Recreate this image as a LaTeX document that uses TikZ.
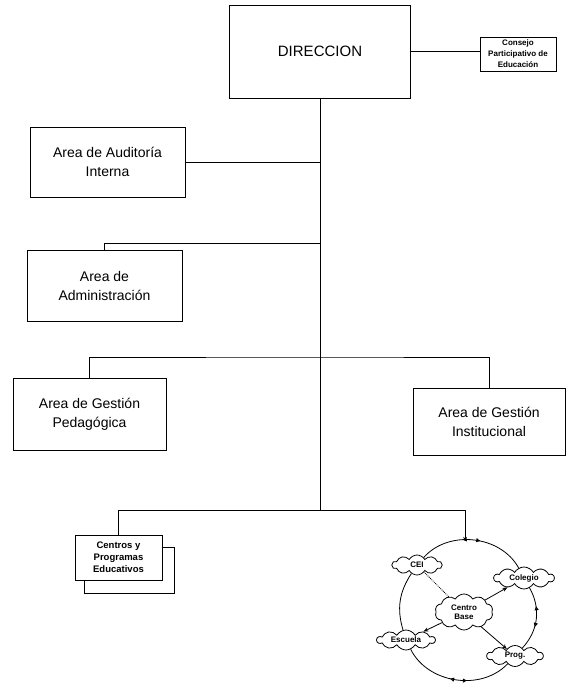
\documentclass[tikz,border=0pt]{standalone}
\usepackage{fontspec}
\setmainfont{Liberation Sans}
\usetikzlibrary{shapes.symbols,arrows.meta,decorations.markings}
\begin{document}
\begin{tikzpicture}[x=1pt,y=1pt,
  box/.style={draw,line width=0.9pt,fill=white,inner sep=1pt,align=center},
  area/.style={box,font=\fontsize{14}{19}\selectfont},
  cl/.style={draw,cloud,cloud puffs=10,cloud puff arc=120,cloud ignores aspect,line width=0.8pt,fill=white,inner sep=0pt,align=center,font=\fontsize{8}{9.5}\selectfont\bfseries},
  link/.style={line width=0.8pt},
  arr/.style={line width=0.8pt,-{Stealth[length=5pt,width=4pt]}},
  flow/.style 2 args={line width=0.8pt,postaction={decorate},decoration={markings,
    mark=at position #1 with {\arrowreversed{Triangle[open,length=4pt,width=4pt]}},
    mark=at position #2 with {\arrow{Triangle[open,length=4pt,width=4pt]}}}}
]
\useasboundingbox[fill=white] (0,0) rectangle (566,683);

% main boxes
\node[box,minimum width=181,minimum height=93,font=\fontsize{15}{18}\selectfont] (dir) at (320,631.5) {DIRECCION};
\node[box,minimum width=76,minimum height=34,font=\fontsize{8}{11}\selectfont\bfseries] (cons) at (518,629) {Consejo\\Participativo de\\Educación};
\node[area,minimum width=155,minimum height=70] (aud) at (107.5,521) {Area de Auditoría\\Interna};
\node[area,minimum width=155,minimum height=71] (adm) at (104.5,397.5) {Area de\\Administración};
\node[area,minimum width=153,minimum height=72] (ped) at (89.5,269) {Area de Gestión\\Pedagógica};
\node[area,minimum width=152,minimum height=67] (ins) at (489,261.5) {Area de Gestión\\Institucional};
\node[box,minimum width=90,minimum height=46] (cenb) at (129,113) {};
\node[box,minimum width=87,minimum height=45,font=\fontsize{9.5}{12}\selectfont\bfseries] (cen) at (118.5,125.5) {Centros y\\Programas\\Educativos};

% junctions
\coordinate (jadm) at (320,440);
\coordinate (jg) at (320,326);
\coordinate (jc) at (320,173);
\coordinate (ctop) at (465,142);

% connectors
\draw[link] (dir.east) -- (dir.east -| cons.west);
\draw[link] (dir.south) -- (jc);
\draw[link] (aud.east) -- (aud.east -| dir.south);
\draw[link] (jadm) -| (adm.north);
\draw[link] (ped.north) |- (jg) -| (ins.north);
\draw[link] (cen.north) |- (jc);
\draw[link,-{Stealth[length=4pt,width=3.5pt]}] (jc) -| (ctop);

% cycle
\node[cl,minimum width=50,minimum height=20] (cei) at (417,118) {CEI};
\node[cl,minimum width=60,minimum height=22] (col) at (524,105) {Colegio};
\node[cl,minimum width=58,minimum height=36] (cb) at (464,71) {Centro\\Base};
\node[cl,minimum width=58,minimum height=20] (esc) at (406,43) {Escuela};
\node[cl,minimum width=56,minimum height=21] (prog) at (515,27) {Prog.};

\draw[flow={0.40}{0.56}] (cei) to[bend left=55] (col);
\draw[flow={0.30}{0.62}] (col) to[bend left=36] (prog);
\draw[flow={0.40}{0.55}] (prog) to[bend left=55] (esc);
\draw[link] (esc) to[bend left=25] (cei);

\draw[arr] (cb) -- (col);
\draw[arr] (cb) -- (prog);
\draw[arr] (cb) -- (esc);
\draw[link,densely dotted] (cb) -- (cei);
\end{tikzpicture}
\end{document}
